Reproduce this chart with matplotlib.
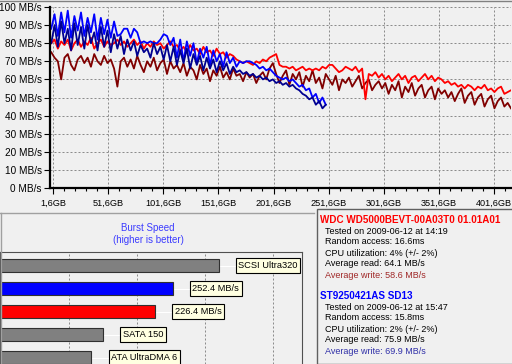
#HD Tune style compare screen: transfer rate graph + burst speed bars + info box
import numpy as np
import matplotlib as mpl
mpl.use('Agg')
import matplotlib.pyplot as plt
from matplotlib.lines import Line2D
from matplotlib.patches import Rectangle

mpl.rcParams['font.family'] = ['Liberation Sans', 'DejaVu Sans']

W, H = 512, 364
BG = '#f0f0f0'

# transfer rate samples, one every 3 GB (MB/s)
step = 3
wd_read = [80, 82, 77, 81, 79, 82, 76, 80, 82, 78, 81, 79, 83, 77, 80, 82, 78, 81, 79, 80,
           82, 79, 81, 78, 80, 82, 79, 81, 77, 80, 78, 81, 79, 80, 77, 79, 81, 78, 79, 76,
           78, 75, 79, 76, 77, 74, 78, 75, 76, 73, 77, 74, 75, 72, 74, 73, 71, 70, 69, 70,
           69, 68, 70, 69, 71, 70, 72, 73, 74, 68, 67, 67, 66, 67, 65, 66, 67, 65, 66, 65,
           66, 65, 67, 66, 68, 68, 66, 64, 65, 67, 66, 65, 67, 64, 66, 49, 63, 62, 64, 61,
           63, 60, 62, 59, 61, 63, 60, 62, 58, 61, 62, 59, 61, 63, 60, 62, 59, 61, 60, 58,
           59, 57, 58, 56, 57, 55, 57, 56, 54, 56, 55, 57, 54, 55, 53, 55, 56, 52, 53, 54]
wd_write = [75, 72, 70, 60, 72, 74, 68, 65, 71, 73, 69, 72, 67, 74, 70, 68, 73, 69, 71, 66,
            56, 70, 72, 67, 71, 66, 73, 68, 64, 70, 67, 72, 65, 69, 71, 63, 70, 66, 68, 64,
            69, 62, 67, 65, 60, 68, 63, 66, 59, 65, 62, 67, 61, 64, 60, 66, 62, 63, 59, 64,
            61, 63, 58, 62, 64, 60, 66, 69, 63, 58, 62, 65, 57, 63, 60, 64, 56, 62, 59, 65,
            58, 61, 55, 63, 60, 57, 62, 54, 60, 58, 61, 56, 59, 62, 55, 58, 60, 54, 57, 59,
            55, 58, 52, 57, 54, 59, 50, 56, 53, 58, 51, 55, 57, 50, 54, 56, 49, 55, 52, 54,
            50, 53, 48, 52, 55, 47, 51, 53, 46, 50, 52, 45, 49, 51, 44, 48, 50, 45, 47, 44]
st_read = [88, 96, 84, 97, 86, 98, 83, 95, 87, 97, 84, 94, 86, 96, 82, 94, 85, 93, 83, 92,
           84, 85, 88, 88, 83, 88, 86, 80, 81, 80, 81, 80, 80, 82, 85, 84, 79, 83, 72, 82,
           70, 81, 73, 80, 69, 77, 72, 78, 68, 76, 70, 74, 67, 75, 69, 72, 67, 70, 69, 70,
           70, 69, 68, 66, 67, 65, 66, 64, 62, 61, 60, 61, 59, 60, 58, 56, 57, 54, 55, 50,
           52, 47, 50, 46]
st_write = [80, 90, 78, 92, 80, 88, 76, 91, 79, 89, 77, 90, 80, 86, 76, 89, 78, 87, 75, 85,
            77, 84, 74, 82, 76, 81, 73, 79, 75, 77, 72, 80, 74, 78, 71, 79, 70, 78, 68, 76,
            69, 77, 66, 74, 68, 73, 65, 72, 66, 71, 64, 70, 65, 69, 63, 67, 64, 65, 63, 64,
            62, 63, 61, 62, 60, 61, 59, 60, 58, 59, 57, 58, 56, 57, 55, 54, 52, 51, 49, 50,
            46, 48, 44, 46]
wd_pos = np.arange(len(wd_read)) * step
st_pos = np.arange(len(st_read)) * step

xtick_pos = [1.6, 51.6, 101.6, 151.6, 201.6, 251.6, 301.6, 351.6, 401.6]
xtick_lbl = ['1,6GB', '51,6GB', '101,6GB', '151,6GB', '201,6GB', '251,6GB', '301,6GB', '351,6GB', '401,6GB']
ytick_pos = [0, 10, 20, 30, 40, 50, 60, 70, 80, 90, 100]
ytick_lbl = ['%d MB/s' % v for v in ytick_pos]

# burst speed bars
burst_vals = [320, 252.4, 226.4, 150, 133]
burst_lbl = ['SCSI Ultra320', '252.4 MB/s', '226.4 MB/s', 'SATA 150', 'ATA UltraDMA 6']
burst_col = ['#808080', '#0000ff', '#ff0000', '#808080', '#808080']

# info box
wd_info = ['Tested on 2009-06-12 at 14:19', 'Random access: 16.6ms', 'CPU utilization: 4% (+/- 2%)',
           'Average read: 64.1 MB/s', 'Average write: 58.6 MB/s']
st_info = ['Tested on 2009-06-12 at 15:47', 'Random access: 15.8ms', 'CPU utilization: 2% (+/- 2%)',
           'Average read: 75.9 MB/s', 'Average write: 69.9 MB/s']

def fx(x):
    return x / W

def fy(y):
    return 1 - y / H

fig = plt.figure(figsize=(W / 100, H / 100), dpi=100, facecolor=BG)

# ---- transfer graph ----
ax = fig.add_axes([fx(50), fy(188), (511 - 50) / W, (188 - 7) / H])
ax.set_facecolor(BG)
ax.plot(wd_pos, wd_write, '-', color='#800000', lw=1.3)
ax.plot(wd_pos, wd_read, '-', color='#ff0000', lw=1.3)
ax.plot(st_pos, st_read, '-', color='#0000ff', lw=1.3)
ax.plot(st_pos, st_write, '-', color='#000090', lw=1.3)
ax.set_xlim(1.6 - 3 / 1.1025, 1.6 + 458 / 1.1025)
ax.set_ylim(0, 100)
ax.set_xticks(xtick_pos)
ax.set_xticklabels(xtick_lbl, fontsize=6.6)
ax.set_xticks(np.arange(11.6, 417, 10), minor=True)
ax.set_yticks(ytick_pos)
ax.set_yticklabels(ytick_lbl, fontsize=7.2)
ax.tick_params(axis='x', which='major', length=4, width=0.8, pad=4)
ax.tick_params(axis='x', which='minor', length=2, width=0.8)
ax.tick_params(axis='y', length=4, width=0.8, pad=2)
ax.grid(True, color='#8c8c8c', lw=0.72, ls=(0, (2, 2)))
for s in ['top', 'right']:
    ax.spines[s].set_visible(False)
for s in ['left', 'bottom']:
    ax.spines[s].set_linewidth(1.6)
    ax.spines[s].set_color('black')

# window frame lines
fig.add_artist(Line2D([0, 1], [fy(1), fy(1)], color='#808080', lw=1))
fig.add_artist(Line2D([0, fx(314)], [fy(212.5), fy(212.5)], color='#a0a0a0', lw=1))
fig.add_artist(Line2D([fx(0.5), fx(0.5)], [fy(212.5), 0], color='#a0a0a0', lw=1))

# ---- burst speed ----
fig.text(fx(148), fy(228), 'Burst Speed', color='#3c3cff', fontsize=7, ha='center', va='center')
fig.text(fx(148), fy(240), '(higher is better)', color='#3c3cff', fontsize=7, ha='center', va='center')

bx = fig.add_axes([0, 0, 302 / W, (364 - 252) / H])
bx.set_facecolor(BG)
ypos = np.arange(len(burst_vals))
bx.barh(ypos, burst_vals, height=13 / 23, color=burst_col, edgecolor='#303030', lw=0.8, zorder=3)
for i, v in enumerate(burst_vals):
    bx.plot([v, v + 25], [i, i], color='white', lw=0.8, zorder=2)
    bx.text(v + 29, i, burst_lbl[i], fontsize=6.7, ha='left', va='center', zorder=4,
            bbox=dict(boxstyle='square,pad=0.28', fc='#ffffe1', ec='black', lw=0.8))
bx.set_xlim(-1.5, 301 / 0.68)
bx.set_ylim(-13.5 / 23 + 112 / 23, -13.5 / 23)
bx.set_xticks([100, 200, 300, 400])
bx.set_yticks([])
bx.tick_params(axis='x', length=0, labelbottom=False)
bx.grid(True, axis='x', color='#8c8c8c', lw=0.72, ls=(0, (2, 2)), zorder=1)
bx.spines['bottom'].set_visible(False)
for s in ['top', 'right', 'left']:
    bx.spines[s].set_color('#505050')
    bx.spines[s].set_linewidth(0.8)

# ---- info box ----
fig.add_artist(Rectangle((fx(317), 0), 1, fy(209.5), facecolor=BG, edgecolor='#606060', lw=1))
fig.text(fx(320), fy(220), 'WDC WD5000BEVT-00A03T0 01.01A01', color='#ff0000', fontsize=7.1,
         fontweight='bold', va='center')
for k, t in enumerate(wd_info):
    fig.text(fx(325), fy(231 + 11 * k), t, fontsize=6.5, va='center',
             color='#a02828' if k == 4 else 'black')
fig.text(fx(320), fy(296), 'ST9250421AS SD13', color='#0000ff', fontsize=7.1,
         fontweight='bold', va='center')
for k, t in enumerate(st_info):
    fig.text(fx(325), fy(307 + 11 * k), t, fontsize=6.5, va='center',
             color='#3030a8' if k == 4 else 'black')

plt.savefig('out.png', dpi=100, facecolor=BG)
